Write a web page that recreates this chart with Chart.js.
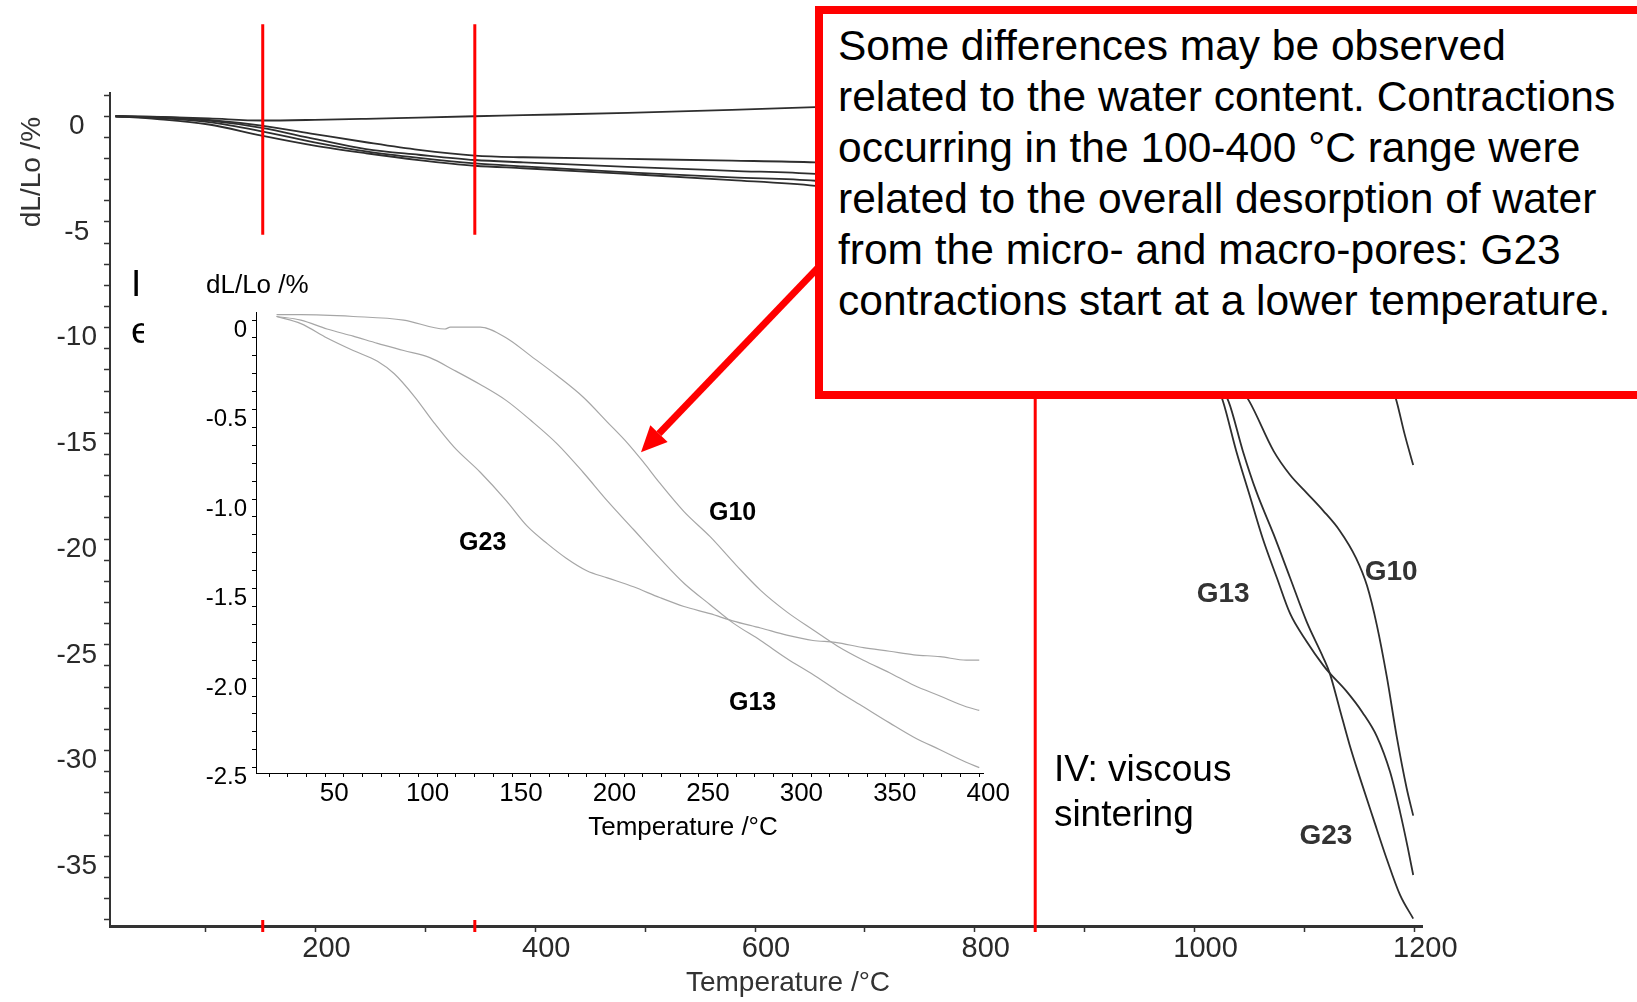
<!DOCTYPE html>
<html>
<head>
<meta charset="utf-8">
<script src="https://cdn.jsdelivr.net/npm/chart.js@4.4.0/dist/chart.umd.min.js"></script>
<style>
  html, body { margin: 0; padding: 0; background: #fff; }
  #wrap { position: relative; width: 1637px; height: 1002px; overflow: hidden; }
  #mainChart { position: absolute; left: 0; top: 0; }
  #insetChart { position: absolute; left: 144px; top: 255px; background: #fff; }
  #note {
    position: absolute; left: 815px; top: 6px; width: 830px; height: 393px;
    box-sizing: border-box; border: 8px solid #ff0000; background: #fff;
    font-family: 'Liberation Sans', Arial, sans-serif; font-size: 42.5px; line-height: 51px;
    padding: 6px 0 0 15px; white-space: nowrap; color: #000;
  }
</style>
</head>
<body>
<div id="wrap">
  <canvas id="mainChart" width="1637" height="1002"></canvas>
  <canvas id="insetChart" width="876" height="590"></canvas>
  <div id="note">Some differences may be observed<br>related to the water content. Contractions<br>occurring in the 100-400 °C range were<br>related to the overall desorption of water<br>from the micro- and macro-pores: G23<br>contractions start at a lower temperature.</div>
</div>
<script>
const FONT = "'Liberation Sans', Arial, sans-serif";

// ---- main dilatometry curves (Temperature /°C, dL/Lo /%) ----
const denseTemp = [18, 60, 103, 151, 199, 246, 294, 345, 389, 484, 579, 655, 750, 850, 950, 1050, 1120, 1160, 1184, 1191, 1199];
const denseDl   = [0, -0.03, -0.1, -0.2, -0.17, -0.12, -0.06, 0, 0.05, 0.16, 0.3, 0.43, 0.55, 0.6, 0.4, -1.5, -5, -9.5, -13.5, -15.0, -16.5];

const flatTemp = [18, 56, 103, 151, 199, 246, 294, 345, 389, 484, 579, 655, 800, 1000, 1200];
const flatDl   = [0, -0.03, -0.17, -0.44, -0.84, -1.23, -1.59, -1.86, -1.94, -2.02, -2.10, -2.18, -2.5, -4.0, -9.0];

const g10Temp = [18, 56, 103, 151, 199, 246, 294, 345, 389, 484, 579, 655, 750, 850, 950, 1010, 1050, 1072, 1087, 1102, 1117, 1132, 1147, 1157, 1166, 1175, 1184, 1193, 1199];
const g10Dl   = [0, -0.05, -0.21, -0.55, -1.07, -1.55, -1.82, -2.07, -2.18, -2.39, -2.58, -2.73, -3.2, -4.3, -7.0, -10.5, -13.5, -15.84, -16.97, -17.81, -18.65, -19.59, -20.9, -22.21, -24.09, -26.52, -29.34, -31.77, -33.08];

const g13Temp = [18, 56, 103, 151, 199, 246, 294, 345, 389, 484, 579, 655, 750, 850, 950, 1000, 1026, 1038, 1050, 1062, 1075, 1087, 1102, 1117, 1123, 1138, 1153, 1166, 1178, 1187, 1194, 1199];
const g13Dl   = [0, -0.08, -0.28, -0.71, -1.23, -1.66, -1.97, -2.23, -2.37, -2.65, -2.89, -3.05, -3.6, -5.0, -8.0, -10.0, -13.5, -15.84, -17.9, -19.96, -21.84, -23.53, -24.84, -25.96, -26.34, -27.18, -28.21, -29.34, -31.02, -32.9, -34.58, -35.89];

const g23Temp = [18, 56, 103, 151, 199, 246, 294, 345, 389, 484, 579, 655, 750, 850, 950, 1000, 1031, 1044, 1056, 1072, 1087, 1102, 1117, 1123, 1132, 1141, 1150, 1163, 1175, 1187, 1199];
const g23Dl   = [0, -0.13, -0.39, -0.92, -1.39, -1.75, -2.07, -2.34, -2.46, -2.73, -3.02, -3.29, -3.9, -5.3, -8.3, -10.8, -13.5, -15.84, -17.72, -19.78, -21.84, -23.9, -25.59, -26.34, -28.02, -29.71, -31.21, -33.27, -35.14, -36.83, -37.95];

// main axis ticks (labels shown every 200 °C and every 5 %)
const mainTempTicks = [100, 200, 300, 400, 500, 600, 700, 800, 900, 1000, 1100, 1200];
const mainDlTicks = Array.from({ length: 40 }, (_, i) => 1 - i);

// ---- inset: 20-400 °C detail ----
const insG10Temp = [24, 37, 65, 92, 114, 117, 133, 147, 160, 174, 188, 201, 212, 220, 229, 242, 256, 270, 283, 297, 311, 324, 338, 352, 365, 379, 393, 400];
const insG10Dl   = [0.03, 0.03, 0.02, 0, -0.05, -0.04, -0.04, -0.10, -0.20, -0.31, -0.43, -0.57, -0.69, -0.79, -0.91, -1.07, -1.21, -1.37, -1.51, -1.63, -1.73, -1.82, -1.90, -1.97, -2.04, -2.10, -2.16, -2.18];

const insG13Temp = [24, 37, 51, 65, 78, 92, 106, 119, 133, 147, 160, 174, 188, 201, 215, 229, 242, 256, 268, 283, 297, 311, 324, 338, 352, 365, 379, 393, 400];
const insG13Dl   = [0.02, 0, -0.05, -0.09, -0.13, -0.17, -0.21, -0.28, -0.36, -0.45, -0.56, -0.69, -0.85, -1.01, -1.17, -1.33, -1.47, -1.59, -1.69, -1.79, -1.89, -1.98, -2.07, -2.16, -2.25, -2.33, -2.40, -2.47, -2.50];

const insG23Temp = [24, 37, 51, 65, 78, 87, 98, 108, 119, 133, 147, 158, 169, 179, 190, 201, 215, 229, 242, 256, 268, 283, 297, 311, 323, 338, 352, 365, 379, 393, 400];
const insG23Dl   = [0.02, -0.02, -0.10, -0.17, -0.23, -0.30, -0.43, -0.57, -0.71, -0.85, -1.01, -1.15, -1.25, -1.33, -1.40, -1.44, -1.49, -1.55, -1.60, -1.64, -1.68, -1.72, -1.76, -1.79, -1.80, -1.83, -1.85, -1.87, -1.88, -1.90, -1.90];

const insetTempTicks = Array.from({ length: 39 }, (_, i) => 20 + i * 10);
const insetDlTicks = Array.from({ length: 26 }, (_, i) => -i / 10);

// annotations (in data units)
const phaseLinesTemp = [152, 345];
const sinteringLineTemp = 855;
const mainCurveLabels = [
  { text: 'G13', x: 1026, y: -22.6 },
  { text: 'G10', x: 1179, y: -21.56 },
  { text: 'G23', x: 1119.5, y: -34.07 }
];
const insetCurveLabels = [
  { text: 'G10', x: 268, y: -1.077 },
  { text: 'G23', x: 134.3, y: -1.244 },
  { text: 'G13', x: 278.7, y: -2.137 }
];
const arrowFrom = { x: 313.5, y: 0.29 };
const arrowTo = { x: 219, y: -0.739 };

function toPoints(temp, dl) {
  return temp.map((t, i) => ({ x: t, y: dl[i] }));
}

function lineSet(name, temp, dl, color, width) {
  return {
    label: name,
    data: toPoints(temp, dl),
    showLine: true,
    borderColor: color,
    borderWidth: width,
    pointRadius: 0,
    cubicInterpolationMode: 'monotone',
    fill: false
  };
}

function fixedTicks(values) {
  return scale => { scale.ticks = values.map(v => ({ value: v })); };
}

const mainDecor = {
  id: 'mainDecor',
  afterDraw(chart) {
    const { ctx, chartArea } = chart;
    const xs = chart.scales.x, ys = chart.scales.y;
    ctx.save();
    // phase boundary lines
    ctx.strokeStyle = '#ff0000';
    ctx.lineWidth = 3;
    phaseLinesTemp.forEach(t => {
      const px = xs.getPixelForValue(t);
      ctx.beginPath();
      ctx.moveTo(px, ys.getPixelForValue(4.35));
      ctx.lineTo(px, ys.getPixelForValue(-5.6));
      ctx.moveTo(px, chartArea.bottom - 6);
      ctx.lineTo(px, chartArea.bottom + 6);
      ctx.stroke();
    });
    const sx = xs.getPixelForValue(sinteringLineTemp);
    ctx.beginPath();
    ctx.moveTo(sx, ys.getPixelForValue(-13));
    ctx.lineTo(sx, chartArea.bottom + 6);
    ctx.stroke();

    // stage texts
    ctx.fillStyle = '#000';
    ctx.font = '37px ' + FONT;
    ctx.textAlign = 'left';
    ctx.textBaseline = 'alphabetic';
    ctx.fillText('I', xs.getPixelForValue(32), ys.getPixelForValue(-8.48));
    ctx.fillText('e', xs.getPixelForValue(32), ys.getPixelForValue(-10.71));
    ctx.textBaseline = 'middle';
    ctx.fillText('IV: viscous', xs.getPixelForValue(872), ys.getPixelForValue(-30.95));
    ctx.fillText('sintering', xs.getPixelForValue(872), ys.getPixelForValue(-33.08));

    // curve labels
    ctx.fillStyle = '#333';
    ctx.font = 'bold 28px ' + FONT;
    ctx.textAlign = 'center';
    mainCurveLabels.forEach(l => ctx.fillText(l.text, xs.getPixelForValue(l.x), ys.getPixelForValue(l.y)));

    // axis titles
    ctx.fillStyle = '#333';
    ctx.font = '28px ' + FONT;
    ctx.fillText('Temperature /°C', 788, 983);
    ctx.translate(32, 172);
    ctx.rotate(-Math.PI / 2);
    ctx.fillText('dL/Lo /%', 0, 0);
    ctx.restore();
  }
};

new Chart(document.getElementById('mainChart'), {
  type: 'scatter',
  data: {
    datasets: [
      lineSet('dense', denseTemp, denseDl, '#2e2e2e', 1.8),
      lineSet('flat', flatTemp, flatDl, '#2e2e2e', 1.8),
      lineSet('G10', g10Temp, g10Dl, '#2e2e2e', 1.8),
      lineSet('G13', g13Temp, g13Dl, '#2e2e2e', 1.8),
      lineSet('G23', g23Temp, g23Dl, '#2e2e2e', 1.8)
    ]
  },
  options: {
    responsive: false,
    animation: false,
    devicePixelRatio: 1,
    layout: { padding: { top: 93, right: 215, left: 0, bottom: 0 } },
    plugins: { legend: { display: false }, tooltip: { enabled: false } },
    scales: {
      x: {
        type: 'linear', min: 13, max: 1207,
        afterBuildTicks: fixedTicks(mainTempTicks),
        afterFit: s => { s.height = 76; },
        border: { color: '#333', width: 3 },
        grid: { drawOnChartArea: false, tickLength: 6, tickColor: '#333', tickWidth: 1.5 },
        ticks: {
          autoSkip: false, maxRotation: 0,
          padding: 0, labelOffset: 11, color: '#2a2a2a',
          font: { family: FONT, size: 29 },
          callback: v => (v % 200 === 0 ? String(v) : '')
        }
      },
      y: {
        type: 'linear', min: -38.3, max: 1.1,
        afterBuildTicks: fixedTicks(mainDlTicks),
        afterFit: s => { s.width = 110; },
        border: { color: '#333', width: 2 },
        grid: { drawOnChartArea: false, tickLength: 6, tickColor: '#333', tickWidth: 1.5 },
        ticks: {
          autoSkip: false,
          padding: 7, crossAlign: 'center', labelOffset: 10, color: '#2a2a2a',
          font: { family: FONT, size: 28 },
          callback: v => (v % 5 === 0 ? String(v) : '')
        }
      }
    }
  },
  plugins: [mainDecor]
});

const insetDecor = {
  id: 'insetDecor',
  afterDraw(chart) {
    const { ctx } = chart;
    const xs = chart.scales.x, ys = chart.scales.y;
    ctx.save();
    ctx.fillStyle = '#000';
    ctx.font = 'bold 25px ' + FONT;
    ctx.textAlign = 'center';
    ctx.textBaseline = 'middle';
    insetCurveLabels.forEach(l => ctx.fillText(l.text, xs.getPixelForValue(l.x), ys.getPixelForValue(l.y)));

    ctx.font = '26px ' + FONT;
    ctx.fillText('Temperature /°C', 683 - 144, 828 - 255);
    ctx.textAlign = 'left';
    ctx.fillText('dL/Lo /%', 206 - 144, 286 - 255);

    // arrow from the note box to the G10 curve
    const x0 = xs.getPixelForValue(arrowFrom.x), y0 = ys.getPixelForValue(arrowFrom.y);
    const x1 = xs.getPixelForValue(arrowTo.x), y1 = ys.getPixelForValue(arrowTo.y);
    const ang = Math.atan2(y1 - y0, x1 - x0);
    const headLen = 26, headHalf = 12;
    const bx = x1 - headLen * Math.cos(ang), by = y1 - headLen * Math.sin(ang);
    ctx.strokeStyle = '#ff0000';
    ctx.fillStyle = '#ff0000';
    ctx.lineWidth = 7;
    ctx.beginPath();
    ctx.moveTo(x0, y0);
    ctx.lineTo(bx, by);
    ctx.stroke();
    ctx.beginPath();
    ctx.moveTo(x1, y1);
    ctx.lineTo(bx + headHalf * Math.sin(ang), by - headHalf * Math.cos(ang));
    ctx.lineTo(bx - headHalf * Math.sin(ang), by + headHalf * Math.cos(ang));
    ctx.closePath();
    ctx.fill();
    ctx.restore();
  }
};

new Chart(document.getElementById('insetChart'), {
  type: 'scatter',
  data: {
    datasets: [
      lineSet('G10', insG10Temp, insG10Dl, '#a6a6a6', 1.2),
      lineSet('G13', insG13Temp, insG13Dl, '#a6a6a6', 1.2),
      lineSet('G23', insG23Temp, insG23Dl, '#a6a6a6', 1.2)
    ]
  },
  options: {
    responsive: false,
    animation: false,
    devicePixelRatio: 1,
    layout: { padding: { top: 57, right: 37, left: 0, bottom: 0 } },
    plugins: { legend: { display: false }, tooltip: { enabled: false } },
    scales: {
      x: {
        type: 'linear', min: 13, max: 402,
        afterBuildTicks: fixedTicks(insetTempTicks),
        afterFit: s => { s.height = 72; },
        border: { color: '#000', width: 1 },
        grid: { drawOnChartArea: false, tickLength: 4, tickColor: '#000', tickWidth: 1 },
        ticks: {
          autoSkip: false, maxRotation: 0,
          padding: 1, labelOffset: 9, color: '#000',
          font: { family: FONT, size: 26 },
          callback: v => (v % 50 === 0 ? String(v) : '')
        }
      },
      y: {
        type: 'linear', min: -2.53, max: 0.045,
        afterBuildTicks: fixedTicks(insetDlTicks),
        afterFit: s => { s.width = 112; },
        border: { color: '#000', width: 1 },
        grid: { drawOnChartArea: false, tickLength: 4, tickColor: '#000', tickWidth: 1 },
        ticks: {
          autoSkip: false,
          padding: 5, labelOffset: 10, color: '#000',
          font: { family: FONT, size: 24 },
          callback: v => {
            if (Math.abs(v * 2 - Math.round(v * 2)) > 1e-6) return '';
            return Math.abs(v) < 1e-9 ? '0' : v.toFixed(1);
          }
        }
      }
    }
  },
  plugins: [insetDecor]
});
</script>
</body>
</html>
